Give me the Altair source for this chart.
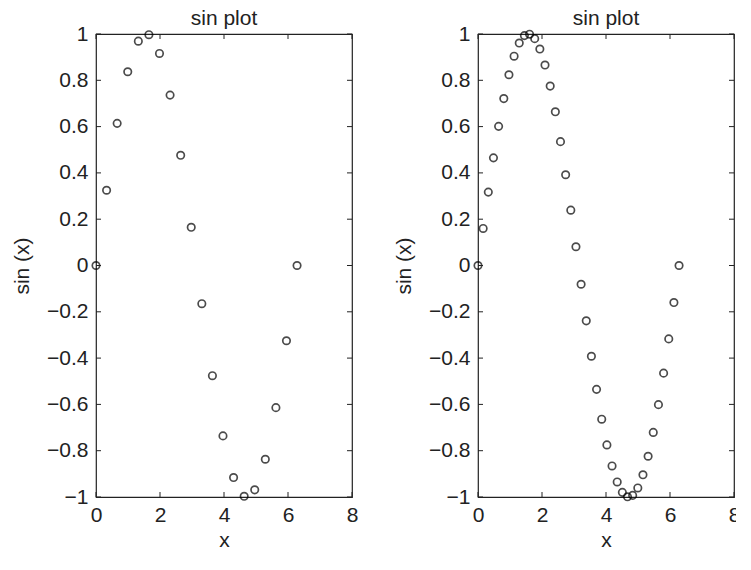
import altair as alt
import pandas as pd

# 20-point sample (left panel)
x_coarse = [0.0, 0.331, 0.661, 0.992, 1.323, 1.653, 1.984, 2.315, 2.646, 2.976,
            3.307, 3.638, 3.968, 4.299, 4.630, 4.960, 5.291, 5.622, 5.952, 6.283]
y_coarse = [0.0, 0.325, 0.614, 0.837, 0.969, 0.997, 0.916, 0.736, 0.476, 0.165,
            -0.165, -0.476, -0.736, -0.916, -0.997, -0.969, -0.837, -0.614, -0.325, 0.0]

# 40-point sample (right panel)
x_fine = [0.0, 0.161, 0.322, 0.483, 0.644, 0.806, 0.967, 1.128, 1.289, 1.450,
          1.611, 1.772, 1.933, 2.094, 2.256, 2.417, 2.578, 2.739, 2.900, 3.061,
          3.222, 3.383, 3.544, 3.705, 3.866, 4.028, 4.189, 4.350, 4.511, 4.672,
          4.833, 4.994, 5.155, 5.316, 5.477, 5.639, 5.800, 5.961, 6.122, 6.283]
y_fine = [0.0, 0.160, 0.317, 0.465, 0.601, 0.721, 0.824, 0.904, 0.961, 0.993,
          0.999, 0.980, 0.935, 0.866, 0.775, 0.664, 0.535, 0.392, 0.239, 0.081,
          -0.081, -0.239, -0.392, -0.535, -0.664, -0.775, -0.866, -0.935, -0.980, -0.999,
          -0.993, -0.961, -0.904, -0.824, -0.721, -0.601, -0.465, -0.317, -0.160, 0.0]

x_ticks = [0, 2, 4, 6, 8]
y_ticks = [-1, -0.8, -0.6, -0.4, -0.2, 0, 0.2, 0.4, 0.6, 0.8, 1]

W, H = 256, 463
FONT = "Liberation Sans"
INK = "#222222"
TICK = 5
FS = 21


def panel(xs, ys):
    df = pd.DataFrame({"x": xs, "y": ys})
    xt = pd.DataFrame({"x": x_ticks})
    yt = pd.DataFrame({"y": y_ticks})
    xsc = alt.Scale(domain=[0, 8], nice=False, zero=False)
    ysc = alt.Scale(domain=[-1, 1], nice=False, zero=False)

    pts = alt.Chart(df).mark_point(
        shape="circle", filled=False, color="black", size=55, strokeWidth=1.7, clip=False
    ).encode(
        x=alt.X("x:Q", scale=xsc,
                axis=alt.Axis(title="x", values=x_ticks, ticks=False, domain=False,
                              grid=False, format="d", labelPadding=7, titlePadding=4,
                              labelFlush=False)),
        y=alt.Y("y:Q", scale=ysc,
                axis=alt.Axis(title="sin (x)", values=y_ticks, ticks=False, domain=False,
                              grid=False, format=".1~f", labelPadding=8, titlePadding=14,
                              labelFlush=False)),
    )

    yl = alt.Chart(yt).mark_rule(color=INK, strokeWidth=1).encode(
        y=alt.Y("y:Q", scale=ysc), x=alt.value(0), x2=alt.value(TICK))
    yr = alt.Chart(yt).mark_rule(color=INK, strokeWidth=1).encode(
        y=alt.Y("y:Q", scale=ysc), x=alt.value(W - TICK), x2=alt.value(W))
    xb = alt.Chart(xt).mark_rule(color=INK, strokeWidth=1).encode(
        x=alt.X("x:Q", scale=xsc), y=alt.value(H - TICK), y2=alt.value(H))
    xtp = alt.Chart(xt).mark_rule(color=INK, strokeWidth=1).encode(
        x=alt.X("x:Q", scale=xsc), y=alt.value(0), y2=alt.value(TICK))

    return alt.layer(pts, yl, yr, xb, xtp).properties(
        width=W, height=H,
        title=alt.TitleParams("sin plot", fontSize=FS, font=FONT, fontWeight="normal",
                              color=INK, anchor="middle", offset=-6),
    )


chart = alt.hconcat(panel(x_coarse, y_coarse), panel(x_fine, y_fine), spacing=33).properties(
    padding={"left": 2, "top": -1, "right": -5, "bottom": 2}
).configure_view(
    stroke=INK, strokeWidth=1.2
).configure_axis(
    labelFont=FONT, titleFont=FONT, labelFontSize=FS, titleFontSize=FS,
    labelColor=INK, titleColor=INK, titleFontWeight="normal"
).configure_title(
    fontWeight="normal"
)

chart.save("out.html", embed_options={"renderer": "svg", "actions": False})
